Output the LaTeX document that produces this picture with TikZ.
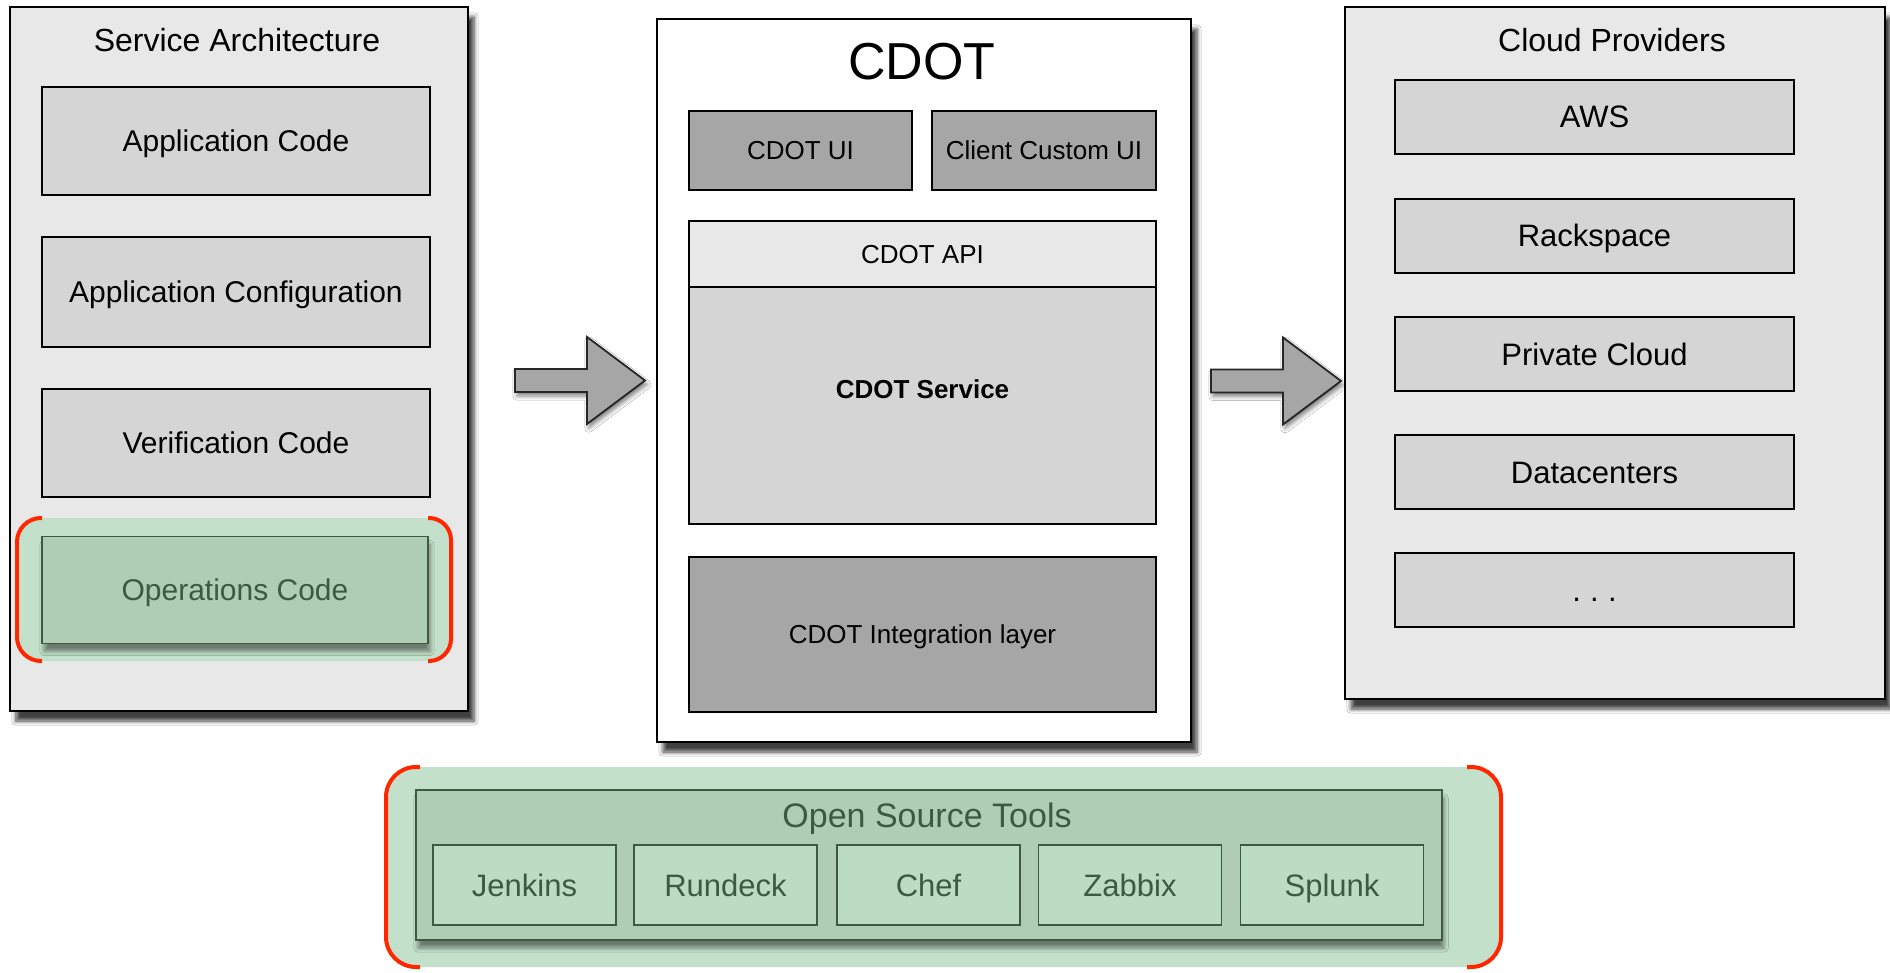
\documentclass[tikz,border=0pt]{standalone}
\usepackage{fontspec}
\setmainfont{Liberation Sans}
\usetikzlibrary{shadows.blur}
\definecolor{panelgray}{HTML}{E8E8E8}
\definecolor{boxgray}{HTML}{D5D5D5}
\definecolor{uigray}{HTML}{A6A6A6}
\definecolor{glowgreen}{HTML}{C3E1CA}
\definecolor{opsgreen}{HTML}{AFCDB5}
\definecolor{toolgreen}{HTML}{BBDBC3}
\definecolor{greenline}{HTML}{3B5A3F}
\definecolor{bracketred}{HTML}{FF2600}
\tikzset{
  panel/.style={draw, line width=1pt, fill=panelgray, blur shadow={shadow xshift=3pt, shadow yshift=-5pt, shadow opacity=75, shadow blur steps=6}},
  title/.style={font=\fontsize{16}{19}\selectfont},
  box/.style={draw, line width=0.9pt, fill=boxgray, minimum width=194pt, font=\fontsize{15}{18}\selectfont, text height=10.8pt, text depth=0pt},
  uibox/.style={draw, line width=0.9pt, fill=uigray, font=\fontsize{13}{16}\selectfont, text height=9.3pt, text depth=0pt},
  glow/.style={fill=glowgreen, rounded corners=12pt},
  greenbox/.style={draw=greenline, line width=0.9pt, fill=opsgreen, text=greenline, text height=10.8pt, text depth=0pt, blur shadow={shadow xshift=1pt, shadow yshift=-4pt, shadow opacity=45}},
  toolbox/.style={draw=greenline, line width=0.9pt, fill=toolgreen, text=greenline, minimum width=91.5pt, minimum height=40pt, font=\fontsize{15.5}{18}\selectfont, text height=11pt, text depth=0pt},
  bracket/.style={draw=bracketred, line width=2pt},
  blockarrow/.style={draw=black!85, line width=0.9pt, fill=uigray, line join=miter, blur shadow={shadow xshift=1pt, shadow yshift=-2pt, shadow opacity=50}}
}
\begin{document}
\begin{tikzpicture}[x=0.5pt,y=-0.5pt]
  \useasboundingbox[fill=white] (0,0) rectangle (1890,973);
  % service architecture
  \node[panel, minimum width=229pt, minimum height=352pt] (sa) at (239,359) {};
  \node[title] (satitle) at (237,40) {Service Architecture};
  \node[box, minimum height=54pt] (appcode) at (236,141) {Application Code};
  \node[box, minimum height=55pt] (appconf) at (236,292) {Application Configuration};
  \node[box, minimum height=54pt] (verify) at (236,443) {Verification Code};
  \node[glow, minimum width=217pt, minimum height=71.5pt] (opsglow) at (234,589.5) {};
  \node[greenbox, minimum width=193pt, minimum height=53.5pt, font=\fontsize{15}{18}\selectfont] (ops) at (235,590) {Operations Code};
  \draw[bracket, rounded corners=12pt] (42,518) -| (17,661) -- (42,661);
  \draw[bracket, rounded corners=11pt] (428,518) -| (451,661) -- (428,661);

  % block arrows
  \foreach \ax/\ay in {515/380.5, 1211/381}
    \draw[blockarrow] (\ax,\ay) ++(0,-11.5) -- ++(72,0) -- ++(0,-32) -- ++(58,43.5)
      -- ++(-58,43.5) -- ++(0,-32) -- ++(-72,0) -- cycle;

  % cdot
  \node[panel, fill=white, minimum width=267pt, minimum height=361.5pt] (cdot) at (924,380.5) {};
  \node[font=\fontsize{26}{30}\selectfont] (cdottitle) at (922,62) {CDOT};
  \node[uibox, minimum width=111.5pt, minimum height=39.5pt] (cdotui) at (800.5,150.5) {CDOT UI};
  \node[uibox, minimum width=112pt, minimum height=39.5pt] (clientui) at (1044,150.5) {Client Custom UI};
  \node[uibox, fill=panelgray, minimum width=233.5pt, minimum height=33pt] (api) at (922.5,254) {CDOT API};
  \node[uibox, fill=boxgray, minimum width=233.5pt, minimum height=118.5pt] (service) at (922.5,405.5) {};
  \node[font=\fontsize{13}{16}\selectfont\bfseries, text height=9.3pt, text depth=0pt] (servicetext) at (922.5,389) {CDOT Service};
  \node[uibox, minimum width=233.5pt, minimum height=77.5pt] (integration) at (922.5,634.5) {CDOT Integration layer};

  % cloud providers
  \node[panel, minimum width=270pt, minimum height=346pt] (cloud) at (1615,353) {};
  \node[title] (cloudtitle) at (1612,40) {Cloud Providers};
  \foreach \name/\y/\txt in {aws/117/AWS, rackspace/236/Rackspace, private/354/Private Cloud, datacenters/472/Datacenters, more/590/{.\hspace{0.3em}.\hspace{0.3em}.}}
    \node[box, minimum width=199.5pt, minimum height=37pt, font=\fontsize{15.5}{18}\selectfont, text height=11pt] (\name) at (1594.5,\y) {\txt};

  % open source tools
  \node[glow, rounded corners=14pt, minimum width=557.5pt, minimum height=100pt] (osglow) at (943.5,867) {};
  \node[greenbox, minimum width=513pt, minimum height=75pt] (os) at (929,865) {};
  \node[text=greenline, font=\fontsize{17}{20}\selectfont] (ostitle) at (927,819) {Open Source Tools};
  \foreach \name/\x/\txt in {jenkins/524.5/Jenkins, rundeck/725.5/Rundeck, chef/928.5/Chef, zabbix/1130/Zabbix, splunk/1332/Splunk}
    \node[toolbox] (\name) at (\x,885) {\txt};
  \draw[bracket, rounded corners=15pt] (420,767) -| (386,967) -- (420,967);
  \draw[bracket, rounded corners=15pt] (1467,767) -| (1501,967) -- (1467,967);
\end{tikzpicture}
\end{document}
